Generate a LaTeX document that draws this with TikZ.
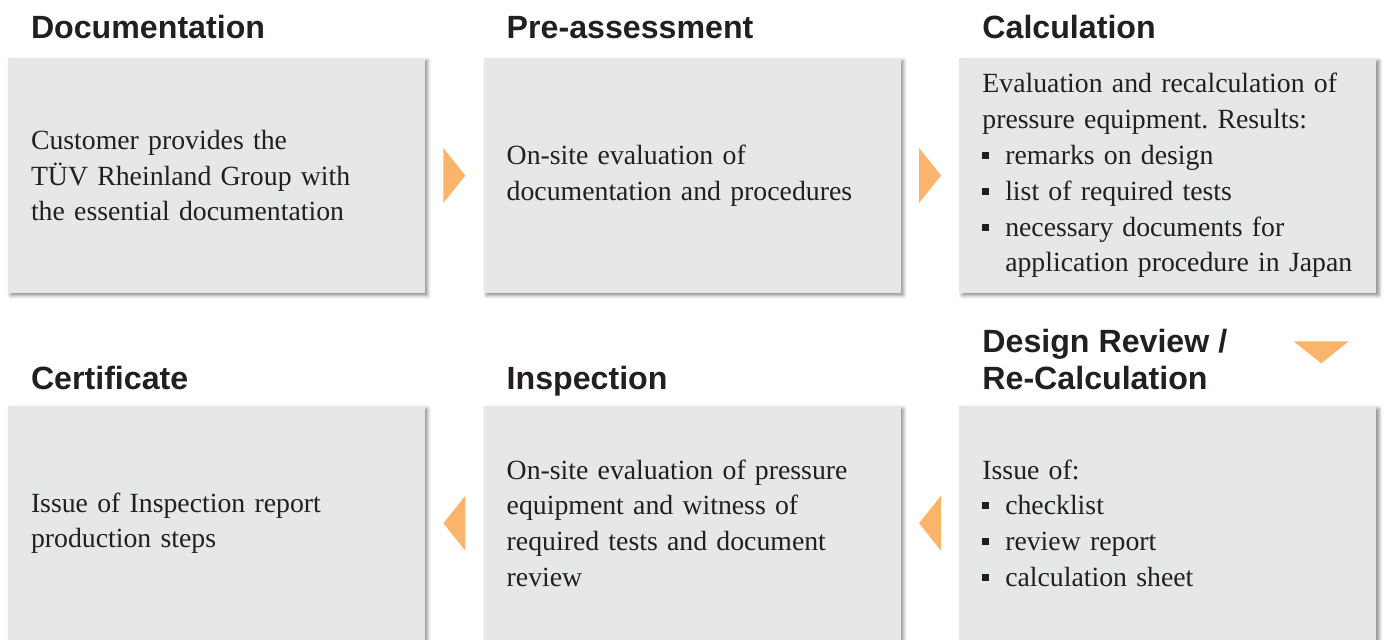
\documentclass[tikz,border=0pt]{standalone}
\usepackage{fontspec}
\setmainfont{Liberation Serif}
\newfontfamily\headfont{Liberation Sans}
\usepackage{xcolor}
\usetikzlibrary{positioning,calc,shadows.blur}

\definecolor{boxgray}{HTML}{E6E7E8}
\definecolor{arrowor}{HTML}{FBB46B}
\definecolor{inkdark}{HTML}{231F20}
\newcommand{\bul}{\makebox[13pt][l]{\rule[0.2em]{4pt}{4pt}}}
\newcommand{\cont}{\hspace*{13pt}}
\frenchspacing

\begin{document}
\begin{tikzpicture}[
  stepbox/.style={fill=boxgray, minimum width=8.34cm, minimum height=4.7cm,
    text width=7.42cm, inner xsep=0.46cm, align=left, text=inkdark,
    font=\fontsize{15.8}{20.4}\selectfont,
    blur shadow={shadow xshift=1.5pt, shadow yshift=-1.5pt,
      shadow blur radius=2pt, shadow opacity=45}},
  steptitle/.style={anchor=base west, inner sep=0pt, align=left, text=inkdark,
    font=\headfont\bfseries\fontsize{18.3}{21}\selectfont},
  pointer/.style={fill=arrowor}]
  \useasboundingbox (0,0) rectangle (27.72,-12.78);

  % top row
  \node[stepbox] (doc) at (4.33,-3.51)
    {Customer provides the\\TÜV Rheinland Group with\\the essential documentation};
  \node[stepbox, right=1.16cm of doc] (pre)
    {On-site evaluation of\\documentation and procedures};
  \node[stepbox, right=1.16cm of pre] (calcul)
    {Evaluation and recalculation of\\pressure equipment. Results:\\
     \bul remarks on design\\\bul list of required tests\\
     \bul necessary documents for\\\cont application procedure in Japan};

  % bottom row
  \node[stepbox, below=2.24cm of calcul] (review)
    {Issue of:\\\bul checklist\\\bul review report\\\bul calculation sheet};
  \node[stepbox, left=1.16cm of review] (insp)
    {On-site evaluation of pressure\\equipment and witness of\\required tests and document\\review};
  \node[stepbox, left=1.16cm of insp] (cert)
    {Issue of Inspection report\\production steps};

  % titles
  \node[steptitle] (docT) at ([shift={(0.46cm,0.38cm)}]doc.north west) {Documentation};
  \node[steptitle] (preT) at ([shift={(0.46cm,0.38cm)}]pre.north west) {Pre-assessment};
  \node[steptitle] (calculT) at ([shift={(0.46cm,0.38cm)}]calcul.north west) {Calculation};
  \node[steptitle] (reviewT) at ([shift={(0.46cm,0.32cm)}]review.north west) {Design Review /\\Re-Calculation};
  \node[steptitle] (inspT) at ([shift={(0.46cm,0.32cm)}]insp.north west) {Inspection};
  \node[steptitle] (certT) at ([shift={(0.46cm,0.32cm)}]cert.north west) {Certificate};

  % pointers between the steps
  \fill[pointer] ($(doc.east)!.5!(pre.west)$) +(-0.22,0.55) -- +(0.22,0) -- +(-0.22,-0.55) -- cycle;
  \fill[pointer] ($(pre.east)!.5!(calcul.west)$) +(-0.22,0.55) -- +(0.22,0) -- +(-0.22,-0.55) -- cycle;
  \fill[pointer] ([shift={(-1.11,-0.06)}]$(calcul.south east)!.5!(review.north east)$)
    +(-0.55,0.22) -- +(0.55,0.22) -- +(0,-0.22) -- cycle;
  \fill[pointer] ($(review.west)!.5!(insp.east)$) +(0.22,0.55) -- +(-0.22,0) -- +(0.22,-0.55) -- cycle;
  \fill[pointer] ($(insp.west)!.5!(cert.east)$) +(0.22,0.55) -- +(-0.22,0) -- +(0.22,-0.55) -- cycle;
\end{tikzpicture}
\end{document}
